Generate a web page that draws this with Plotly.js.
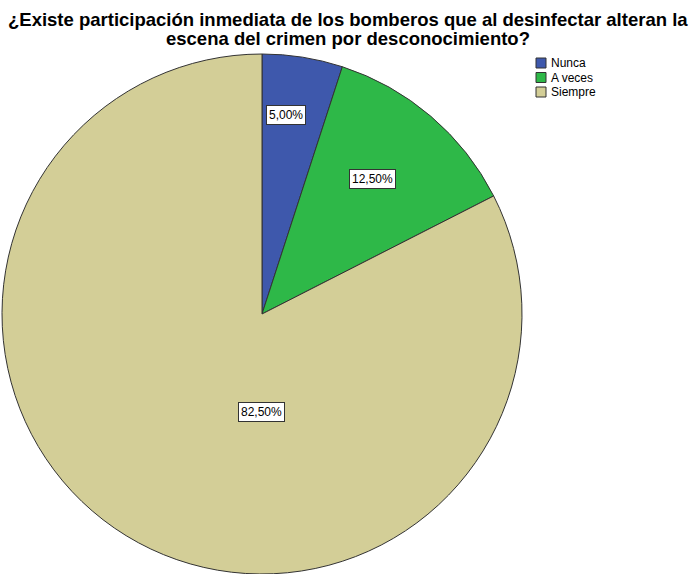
<!DOCTYPE html>
<html>
<head>
<meta charset="utf-8">
<script src="https://cdn.plot.ly/plotly-3.0.1.min.js"></script>
<style>html,body{margin:0;padding:0;background:#fff}#chart{width:695px;height:574px}</style>
</head>
<body>
<div id="chart"></div>
<script>
const categories = ["Nunca", "A veces", "Siempre"];
const percentages = [5.00, 12.50, 82.50];
const labelTexts = ["5,00%", "12,50%", "82,50%"];
const colors = ["#3e58ac", "#2eb848", "#d3ce97"];
const titleLines = [
  "¿Existe participación inmediata de los bomberos que al desinfectar alteran la",
  "escena del crimen por desconocimiento?"
];

const W = 695, H = 574;
const FONT = "Liberation Sans, Arial, sans-serif";
// pie center & radius in pixels
const cx = 262, cy = 314, R = 260;

// label box centres (pixel) as drawn in the reference
const labelPx = [[285.5, 115], [372.5, 179.5], [261.5, 412]];

const trace = {
  type: "pie",
  labels: categories,
  values: percentages,
  marker: {colors: colors, line: {color: "#333333", width: 1}},
  sort: false,
  direction: "clockwise",
  rotation: 0,
  textinfo: "none",
  hoverinfo: "label+percent",
  showlegend: false,
  domain: {x: [(cx - R) / W, (cx + R) / W], y: [(H - cy - R) / H, (H - cy + R) / H]}
};

const px = x => x / W;
const py = y => 1 - y / H;

const annotations = labelTexts.map((t, i) => ({
  text: t,
  x: px(labelPx[i][0]), y: py(labelPx[i][1]),
  xref: "paper", yref: "paper",
  xanchor: "center", yanchor: "middle",
  showarrow: false,
  font: {family: FONT, size: 12, color: "#000"},
  bgcolor: "#ffffff",
  bordercolor: "#333333",
  borderwidth: 1,
  borderpad: 2
}));

// title lines
[19.5, 38].forEach((yc, i) => annotations.push({
  text: "<b>" + titleLines[i] + "</b>",
  x: 0.5, y: py(yc), xref: "paper", yref: "paper",
  xanchor: "center", yanchor: "middle", showarrow: false,
  borderpad: 0,
  font: {family: FONT, size: 18.5, color: "#000"}
}));

// custom legend
const shapes = [];
const legTop = [58, 72.5, 87];
categories.forEach((c, i) => {
  shapes.push({
    type: "rect", xref: "paper", yref: "paper",
    x0: px(536), x1: px(546), y0: py(legTop[i] + 10), y1: py(legTop[i]),
    fillcolor: colors[i], line: {color: "#333333", width: 1}
  });
  annotations.push({
    text: c, x: px(549), y: py(legTop[i] + 5), xref: "paper", yref: "paper",
    xanchor: "left", yanchor: "middle", showarrow: false,
    font: {family: FONT, size: 12, color: "#000"}
  });
});

const layout = {
  width: W, height: H,
  margin: {l: 0, r: 0, t: 0, b: 0},
  paper_bgcolor: "#ffffff",
  showlegend: false,
  annotations: annotations,
  shapes: shapes
};

Plotly.newPlot("chart", [trace], layout, {displayModeBar: false, staticPlot: true});
</script>
</body>
</html>
